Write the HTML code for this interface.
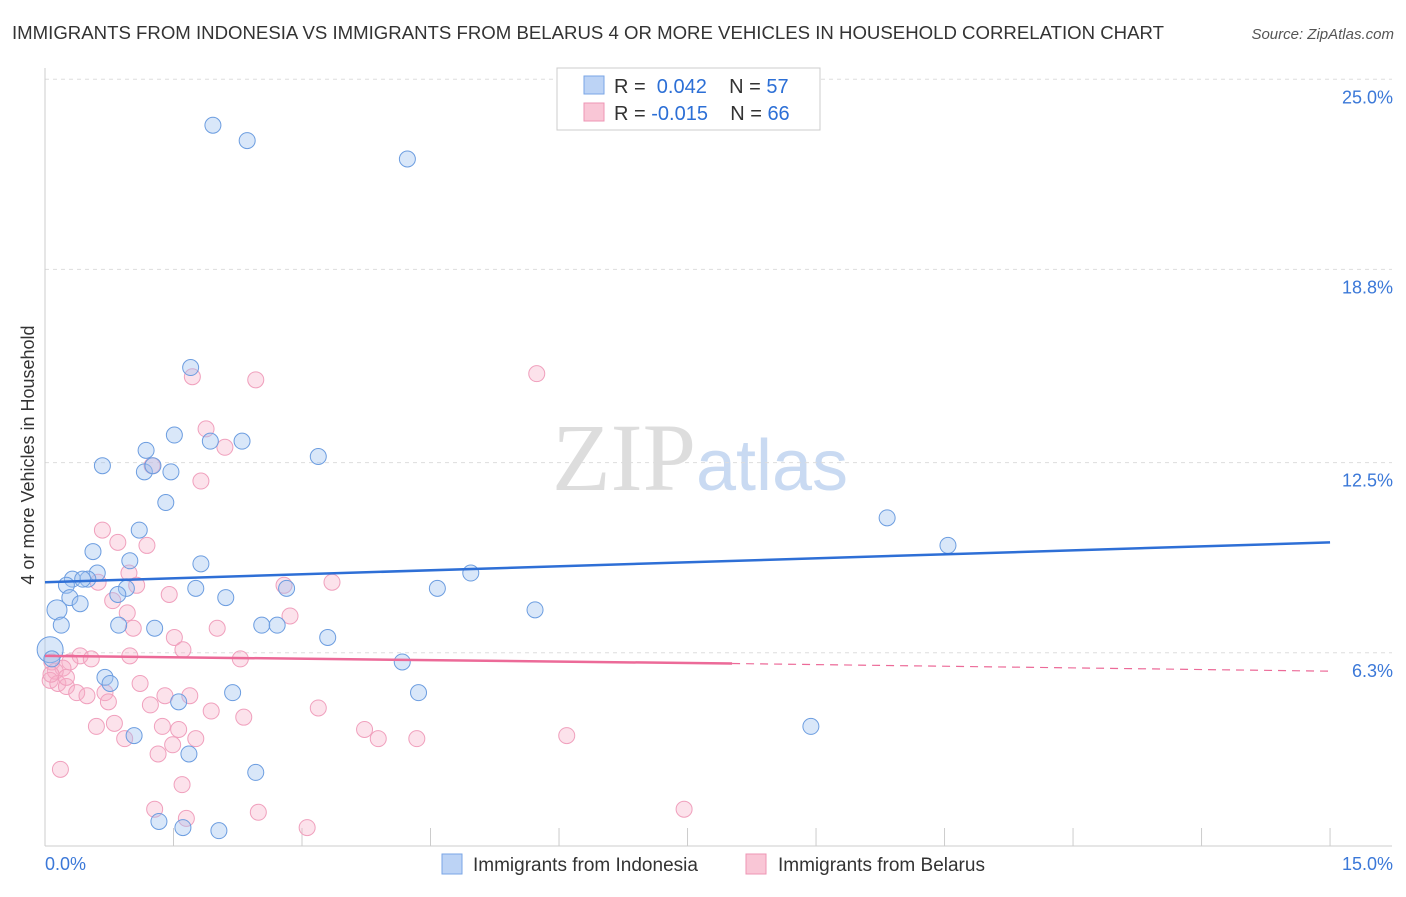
<!DOCTYPE html>
<html><head><meta charset="utf-8"><style>
body{margin:0;background:#fff;font-family:"Liberation Sans",sans-serif;}
</style></head><body>
<svg id="chart" width="1406" height="892" xmlns="http://www.w3.org/2000/svg" font-family="Liberation Sans, sans-serif">
<text x="12" y="39" font-size="18" fill="#333" textLength="1152" lengthAdjust="spacingAndGlyphs">IMMIGRANTS FROM INDONESIA VS IMMIGRANTS FROM BELARUS 4 OR MORE VEHICLES IN HOUSEHOLD CORRELATION CHART</text>
<text x="1394" y="39" font-size="15" fill="#555" font-style="italic" text-anchor="end">Source: ZipAtlas.com</text>
<text x="700" y="490" font-size="96" text-anchor="middle" fill="#ddd" font-family="Liberation Serif, serif">ZIP<tspan fill="#c9daf2" font-family="Liberation Sans, sans-serif" font-size="72">atlas</tspan></text>
<text transform="translate(34,455) rotate(-90)" font-size="18" fill="#333" text-anchor="middle">4 or more Vehicles in Household</text>
<g id="grid"></g><g id="axes"></g><g id="marks"></g>
<g>
<rect x="557" y="68" width="263" height="62" fill="#fff" stroke="#ccc"/>
<rect x="584" y="76" width="20" height="18" fill="#bcd3f5" stroke="#7aa6e6"/>
<text x="614" y="93" font-size="20" fill="#333">R = <tspan fill="#2c6fd6">&#160;0.042</tspan>&#160;&#160;&#160; N = <tspan fill="#2c6fd6">57</tspan></text>
<rect x="584" y="103" width="20" height="18" fill="#f9c6d6" stroke="#ee95b4"/>
<text x="614" y="120" font-size="20" fill="#333">R = <tspan fill="#2c6fd6">-0.015</tspan>&#160;&#160;&#160; N = <tspan fill="#2c6fd6">66</tspan></text>
</g>
<g>
<rect x="442" y="854" width="20" height="20" fill="#bcd3f5" stroke="#7aa6e6"/>
<text x="473" y="871" font-size="19" fill="#333">Immigrants from Indonesia</text>
<rect x="746" y="854" width="20" height="20" fill="#f9c6d6" stroke="#ee95b4"/>
<text x="778" y="871" font-size="19" fill="#333">Immigrants from Belarus</text>
</g>
</svg>
<script>
const yTicks=[25.0,18.8,12.5,6.3];
const yTickLabels=["25.0%","18.8%","12.5%","6.3%"];
const xTickLabels=["0.0%","15.0%"];
const blueX=[1.96,2.36,4.23,1.70,1.51,1.18,1.93,2.30,3.19,0.67,1.16,1.26,1.47,1.41,1.10,0.56,0.99,1.82,9.83,10.54,4.97,0.61,0.50,0.32,0.25,0.44,4.58,2.82,1.76,0.95,0.85,2.11,0.29,0.41,0.14,5.72,0.19,0.86,1.28,2.53,2.71,3.30,0.06,0.08,4.17,0.70,0.76,2.19,4.36,1.56,8.94,1.04,1.68,2.46,1.33,1.61,2.03];
const blueY=[23.5,23.0,22.4,15.6,13.4,12.9,13.2,13.2,12.7,12.4,12.2,12.4,12.2,11.2,10.3,9.6,9.3,9.2,10.7,9.8,8.9,8.9,8.7,8.7,8.5,8.7,8.4,8.4,8.4,8.4,8.2,8.1,8.1,7.9,7.7,7.7,7.2,7.2,7.1,7.2,7.2,6.8,6.4,6.1,6.0,5.5,5.3,5.0,5.0,4.7,3.9,3.6,3.0,2.4,0.8,0.6,0.5];
const pinkX=[1.72,2.46,5.74,1.88,2.10,1.25,1.82,0.67,0.85,1.19,0.98,0.62,2.79,3.35,1.07,1.45,0.79,2.86,0.96,1.03,2.01,1.51,1.61,2.28,0.41,0.54,0.29,0.21,0.08,0.12,0.06,0.15,0.25,0.37,0.49,1.11,0.70,1.40,1.69,0.74,1.23,1.94,3.19,2.32,0.60,0.81,1.37,1.56,3.73,0.93,1.76,3.89,4.34,6.09,1.49,1.32,0.18,1.60,1.28,2.49,1.65,7.46,3.06,0.99,0.25,0.07];
const pinkY=[15.3,15.2,15.4,13.6,13.0,12.4,11.9,10.3,9.9,9.8,8.9,8.6,8.5,8.6,8.5,8.2,8.0,7.5,7.6,7.1,7.1,6.8,6.4,6.1,6.2,6.1,6.0,5.8,6.0,5.7,5.4,5.3,5.2,5.0,4.9,5.3,5.0,4.9,4.9,4.7,4.6,4.4,4.5,4.2,3.9,4.0,3.9,3.8,3.8,3.5,3.5,3.5,3.5,3.6,3.3,3.0,2.5,2.0,1.2,1.1,0.9,1.2,0.6,6.2,5.5,5.6];
const X=v=>45+v*85.67, Y=v=>846-v*30.67;
const NS="http://www.w3.org/2000/svg";
function mk(t,a,p){const e=document.createElementNS(NS,t);for(const k in a)e.setAttribute(k,a[k]);p.appendChild(e);return e;}
const grid=document.getElementById('grid'),axes=document.getElementById('axes'),marks=document.getElementById('marks');
yTicks.forEach((v,i)=>{
 const l=mk('line',{x1:45,x2:1392,y1:Y(v),y2:Y(v),stroke:'#ddd','stroke-dasharray':'4,4'},grid);
 
 
 const t=mk('text',{x:1393,y:Y(v)+24,'font-size':18,fill:'#3b78d8','text-anchor':'end'},axes);
 t.textContent=yTickLabels[i];
 
 
});
mk('line',{x1:45,x2:45,y1:68,y2:846,stroke:'#ccc'},axes);
mk('line',{x1:45,x2:1392,y1:846,y2:846,stroke:'#ccc'},axes);
for(let i=0;i<=10;i++){const x=X(i*1.5);mk('line',{x1:x,x2:x,y1:828,y2:846,stroke:'#ccc'},axes);}
const xl=[[45,'start'],[1393,'end']];
xTickLabels.forEach((s,i)=>{const t=mk('text',{x:xl[i][0],y:870,'font-size':18,fill:'#3b78d8','text-anchor':xl[i][1]},axes);t.textContent=s;
 
 });
pinkX.forEach((x,i)=>{const c=mk('circle',{cx:X(x),cy:Y(pinkY[i]),r:8,fill:'rgba(246,172,198,0.35)',stroke:'#f0a0bd','stroke-width':1},marks);
 
 });
blueX.forEach((x,i)=>{const c=mk('circle',{cx:X(x),cy:Y(blueY[i]),r:(i==42?13:(i==34?10:8)),fill:'rgba(160,195,240,0.4)',stroke:'#6c9de0','stroke-width':1},marks);
 
 });
const b=mk('line',{x1:X(0),y1:Y(8.6),x2:X(15),y2:Y(9.9),stroke:'#2e6fd6','stroke-width':2.5},marks);


const p=mk('line',{x1:X(0),y1:Y(6.2),x2:X(8.02),y2:Y(5.95),stroke:'#ec6a98','stroke-width':2.5},marks);


const pd=mk('line',{x1:X(8.02),y1:Y(5.95),x2:X(15),y2:Y(5.7),stroke:'#ec6a98','stroke-width':1.2,'stroke-dasharray':'8,6'},marks);


</script>
</body></html>
